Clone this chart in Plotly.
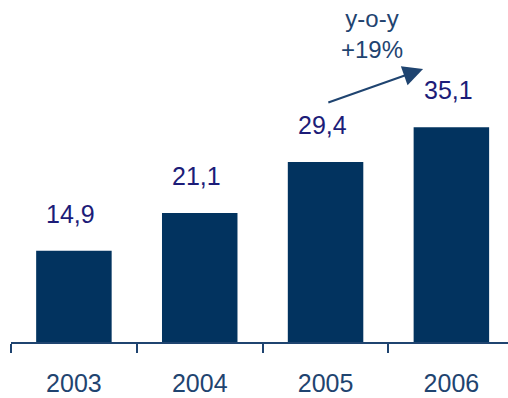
import plotly.graph_objects as go

years = ["2003", "2004", "2005", "2006"]
values = [14.9, 21.1, 29.4, 35.1]
value_labels = ["14,9", "21,1", "29,4", "35,1"]
growth_note = "y-o-y<br>+19%"

BAR = "#02335F"
LABEL = "#1C1C78"
AXIS = "#1F4470"
FONT = "Arial, Liberation Sans, sans-serif"

fig = go.Figure(go.Bar(
    x=years, y=values, marker=dict(color=BAR, line=dict(width=0)),
    hoverinfo="skip",
))

# value labels above each bar (category index positions)
for i, (v, lab) in enumerate(zip(values, value_labels)):
    fig.add_annotation(x=i, y=v, text=lab, showarrow=False, yshift=37, xshift=-3,
                       font=dict(family=FONT, size=25, color=LABEL))

# growth arrow between 2005 and 2006
fig.add_annotation(x=2.775, y=44.6, ax=2.01, ay=39.05, xref="x", yref="y",
                   axref="x", ayref="y", text="", showarrow=True,
                   arrowhead=2, arrowsize=2.0, arrowwidth=2.0, arrowcolor=AXIS)
fig.add_annotation(x=2.37, y=50.4, xref="x", yref="y", text=growth_note,
                   showarrow=False, font=dict(family=FONT, size=24, color=AXIS))

fig.update_layout(
    width=508, height=398, margin=dict(l=11, r=0, t=5, b=56),
    paper_bgcolor="white", plot_bgcolor="white", bargap=0.4, showlegend=False,
    xaxis=dict(type="category", range=[-0.5, 3.45], tickson="boundaries",
               ticks="outside", ticklen=9, tickwidth=1.5, tickcolor=AXIS,
               showline=True, linecolor=AXIS, linewidth=1.5, showgrid=False,
               ticklabelstandoff=18,
               tickfont=dict(family=FONT, size=25, color=AXIS)),
    yaxis=dict(range=[0, 55.07], visible=False, showgrid=False),
)

fig.write_html("out.html")
